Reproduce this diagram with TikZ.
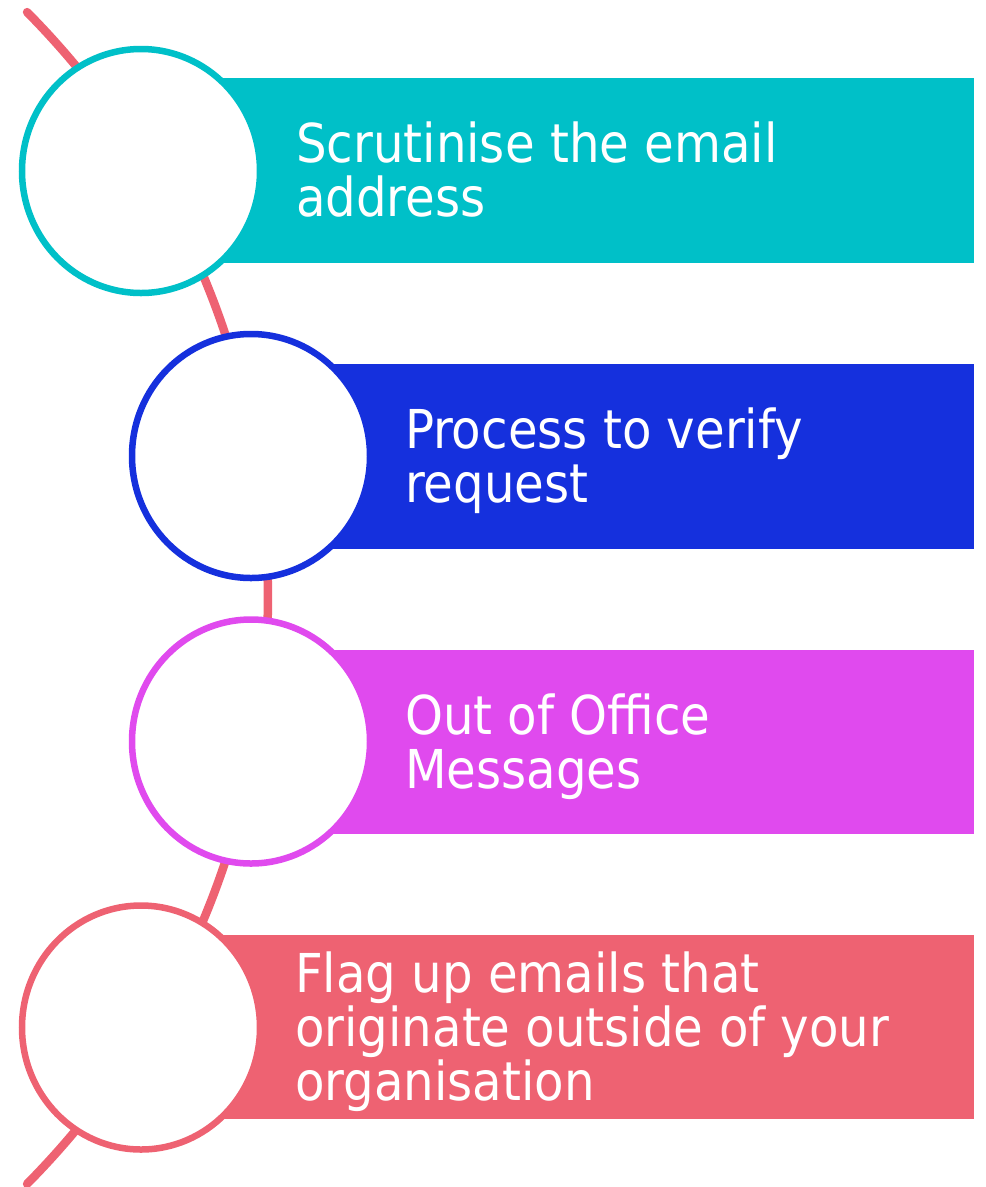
\documentclass[tikz,border=0pt]{standalone}
\usepackage{fontspec}
\setmainfont{DejaVu Sans Condensed}
\usetikzlibrary{shapes.geometric}
\definecolor{stepteal}{HTML}{00C0C8}
\definecolor{stepblue}{HTML}{1530DD}
\definecolor{stepmagenta}{HTML}{E04AEE}
\definecolor{stepred}{HTML}{EE6272}
\begin{document}
\begin{tikzpicture}[x=1pt,y=-1pt,
  band/.style={rectangle, draw=none, inner sep=0, anchor=east,
    minimum height=184.5pt},
  outer band/.style={band, minimum width=833pt},
  inner band/.style={band, minimum width=723pt},
  bubble/.style={ellipse, fill=white, line width=6.5pt, inner sep=0,
    minimum width=238pt, minimum height=244pt},
  label/.style={anchor=base west, inner sep=0, text=white, align=left,
    font=\fontsize{53.6}{54}\selectfont},
  spine/.style={line width=8.5pt, line cap=round, draw=stepred}]
  \useasboundingbox (0,0) rectangle (986,1187);

  % curved spine running behind the bubbles
  \coordinate (hub) at (-565,598);
  \draw[spine] (hub) ++(44.7:833) arc (44.7:-44.7:833);

  % coloured bands, each starting under the centre of its bubble
  \node[outer band, fill=stepteal]    (b1) at (974,170.5) {};
  \node[inner band, fill=stepblue]    (b2) at (974,456.3) {};
  \node[inner band, fill=stepmagenta] (b3) at (974,741.8) {};
  \node[outer band, fill=stepred]     (b4) at (974,1027) {};

  % white bubbles
  \node[bubble, draw=stepteal]    (c1) at (141,171) {};
  \node[bubble, draw=stepblue]    (c2) at (251,456) {};
  \node[bubble, draw=stepmagenta] (c3) at (251,741.5) {};
  \node[bubble, draw=stepred]     (c4) at (141,1027.5) {};

  % step texts (anchored on the baseline of their last line)
  \node[label] (t1) at (296,216.8) {Scrutinise the email\\address};
  \node[label] (t2) at (405,502.6) {Process to verify\\request};
  \node[label] (t3) at (405,788.1) {Out of Office\\Messages};
  \node[label] (t4) at (295,1100) {Flag up emails that\\originate outside of your\\organisation};
\end{tikzpicture}
\end{document}
